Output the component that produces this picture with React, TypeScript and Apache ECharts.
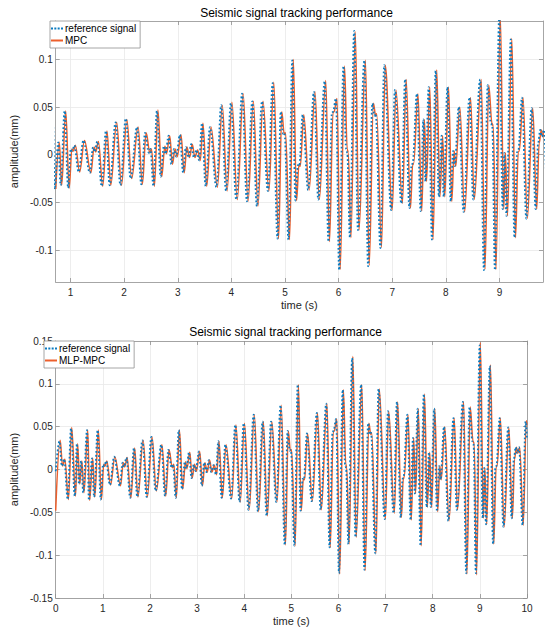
import React, { useEffect, useRef } from 'react';
import * as echarts from 'echarts';

// reference seismic signal (s, mm) — extrema and shoulders
const refTime = [
  0.00, 0.08, 0.13, 0.18, 0.255, 0.325, 0.405, 0.45, 0.495, 0.54,
  0.585, 0.665, 0.705, 0.77, 0.815, 0.89, 0.955, 1.005, 1.035, 1.07,
  1.15, 1.24, 1.36, 1.42, 1.45, 1.50, 1.58, 1.66, 1.73, 1.84,
  1.93, 2.03, 2.12, 2.24, 2.32, 2.39, 2.46, 2.49, 2.545, 2.61,
  2.68, 2.74, 2.77, 2.83, 2.88, 2.93, 2.97, 3.04, 3.10, 3.15,
  3.20, 3.25, 3.30, 3.35, 3.40, 3.45, 3.52, 3.60, 3.72, 3.81,
  3.90, 3.99, 4.09, 4.20, 4.29, 4.39, 4.475, 4.57, 4.68, 4.77,
  4.86, 4.92, 4.965, 4.99, 5.065, 5.135, 5.195, 5.24, 5.265, 5.33,
  5.43, 5.54, 5.62, 5.74, 5.81, 5.875, 5.895, 5.95, 6.01, 6.09,
  6.14, 6.16, 6.21, 6.29, 6.36, 6.48, 6.55, 6.63, 6.67, 6.69,
  6.78, 6.85, 6.98, 7.05, 7.17, 7.24, 7.32, 7.36, 7.38, 7.46,
  7.53, 7.58, 7.62, 7.68, 7.74, 7.81, 7.87, 7.92, 7.96, 8.03,
  8.09, 8.135, 8.165, 8.24, 8.33, 8.44, 8.51, 8.64, 8.71, 8.78,
  8.84, 8.865, 8.915, 8.995, 9.06, 9.09, 9.13, 9.21, 9.28, 9.33,
  9.35, 9.42, 9.50, 9.60, 9.675, 9.72, 9.76, 9.79, 9.83, 9.905,
  9.97, 10.00,
];
const refAmp = [
  -0.002, 0.033, 0.004, 0.012, -0.035, 0.048, -0.031, 0.030, -0.017, 0.010,
  -0.027, 0.046, -0.036, 0.013, -0.032, 0.046, -0.035, 0.006, 0.004, 0.010,
  -0.018, 0.015, -0.019, 0.008, 0.003, 0.014, -0.033, 0.025, -0.032, 0.034,
  -0.032, 0.038, -0.025, 0.029, -0.031, 0.023, 0.002, 0.006, -0.033, 0.046,
  -0.023, 0.009, 0.001, 0.020, -0.010, 0.006, -0.002, 0.021, -0.019, 0.008,
  -0.003, 0.011, -0.003, 0.005, -0.006, 0.033, -0.033, 0.029, -0.034, 0.052,
  -0.038, 0.054, -0.047, 0.064, -0.049, 0.056, -0.054, 0.056, -0.038, 0.075,
  -0.088, 0.045, 0.022, 0.023, -0.089, 0.099, -0.048, -0.011, -0.012, 0.042,
  -0.037, 0.066, -0.047, 0.077, -0.091, 0.044, 0.045, 0.059, -0.121, 0.093,
  0.006, 0.002, -0.087, 0.130, -0.079, 0.099, -0.117, 0.054, 0.041, 0.043,
  -0.098, 0.094, -0.058, 0.068, -0.051, 0.079, -0.056, -0.011, -0.009, 0.064,
  -0.059, 0.037, -0.028, 0.071, -0.089, 0.088, -0.044, 0.020, -0.044, 0.071,
  -0.049, 0.004, -0.012, 0.050, -0.060, 0.060, -0.047, 0.079, -0.121, 0.073,
  0.033, 0.030, -0.121, 0.145, -0.057, 0.002, -0.064, 0.121, -0.087, 0.003,
  0.004, 0.060, -0.067, 0.049, -0.057, 0.012, 0.026, 0.019, 0.026, -0.065,
  0.056, 0.035,
];

// MPC tracking output (top panel, visible from its left edge on)
const mpcTime = [
  0.725, 0.79, 0.835, 0.91, 0.975, 1.025, 1.055, 1.09,
  1.17, 1.26, 1.38, 1.44, 1.47, 1.52, 1.60, 1.68, 1.75, 1.86,
  1.95, 2.05, 2.14, 2.26, 2.34, 2.41, 2.48, 2.51, 2.565, 2.63,
  2.70, 2.76, 2.79, 2.85, 2.90, 2.95, 2.99, 3.06, 3.12, 3.17,
  3.22, 3.27, 3.32, 3.37, 3.42, 3.47, 3.54, 3.62, 3.74, 3.83,
  3.92, 4.01, 4.11, 4.22, 4.31, 4.41, 4.495, 4.59, 4.70, 4.79,
  4.88, 4.94, 4.985, 5.01, 5.085, 5.155, 5.215, 5.26, 5.285, 5.35,
  5.45, 5.56, 5.64, 5.76, 5.83, 5.895, 5.915, 5.97, 6.03, 6.11,
  6.16, 6.18, 6.23, 6.31, 6.38, 6.50, 6.57, 6.65, 6.69, 6.71,
  6.80, 6.87, 7.00, 7.07, 7.19, 7.26, 7.34, 7.38, 7.40, 7.48,
  7.55, 7.60, 7.64, 7.70, 7.76, 7.83, 7.89, 7.94, 7.98, 8.05,
  8.11, 8.155, 8.185, 8.26, 8.35, 8.46, 8.53, 8.66, 8.73, 8.80,
  8.86, 8.885, 8.935, 9.015, 9.08, 9.11, 9.15, 9.23, 9.30, 9.35,
  9.37, 9.44, 9.52, 9.62, 9.695, 9.74, 9.78, 9.81, 9.85, 9.925,
  9.99, 10.00,
];
const mpcAmp = [
  -0.036, 0.013, -0.032, 0.046, -0.035, 0.006, 0.004, 0.010,
  -0.018, 0.015, -0.019, 0.008, 0.003, 0.014, -0.033, 0.025, -0.032, 0.034,
  -0.032, 0.037, -0.025, 0.029, -0.031, 0.023, 0.002, 0.006, -0.033, 0.047,
  -0.023, 0.009, 0.001, 0.020, -0.010, 0.006, -0.002, 0.021, -0.019, 0.008,
  -0.003, 0.011, -0.003, 0.005, -0.006, 0.033, -0.033, 0.029, -0.034, 0.052,
  -0.038, 0.055, -0.047, 0.064, -0.049, 0.056, -0.054, 0.056, -0.038, 0.076,
  -0.088, 0.045, 0.022, 0.023, -0.089, 0.100, -0.048, -0.011, -0.012, 0.042,
  -0.037, 0.066, -0.047, 0.078, -0.091, 0.044, 0.045, 0.059, -0.120, 0.093,
  0.006, 0.002, -0.087, 0.129, -0.079, 0.099, -0.116, 0.054, 0.041, 0.043,
  -0.097, 0.094, -0.058, 0.068, -0.051, 0.079, -0.056, -0.011, -0.009, 0.064,
  -0.059, 0.037, -0.028, 0.071, -0.089, 0.089, -0.044, 0.020, -0.044, 0.071,
  -0.049, 0.004, -0.012, 0.050, -0.060, 0.060, -0.047, 0.079, -0.120, 0.073,
  0.033, 0.030, -0.120, 0.146, -0.057, 0.002, -0.064, 0.122, -0.087, 0.003,
  0.004, 0.060, -0.067, 0.049, -0.057, 0.012, 0.026, 0.019, 0.026, -0.065,
  0.056, 0.054,
];

// MLP-MPC tracking output (bottom panel)
const mlpTime = [
  0.00, 0.095, 0.145, 0.195, 0.27, 0.34, 0.42, 0.465, 0.51, 0.555,
  0.60, 0.68, 0.72, 0.785, 0.83, 0.905, 0.97, 1.02, 1.05, 1.085,
  1.165, 1.255, 1.375, 1.435, 1.465, 1.515, 1.595, 1.675, 1.745, 1.855,
  1.945, 2.045, 2.135, 2.255, 2.335, 2.405, 2.475, 2.505, 2.56, 2.625,
  2.695, 2.755, 2.785, 2.845, 2.895, 2.945, 2.985, 3.055, 3.115, 3.165,
  3.215, 3.265, 3.315, 3.365, 3.415, 3.465, 3.535, 3.615, 3.735, 3.825,
  3.915, 4.005, 4.105, 4.215, 4.305, 4.405, 4.49, 4.585, 4.695, 4.785,
  4.875, 4.935, 4.98, 5.005, 5.08, 5.15, 5.21, 5.255, 5.28, 5.345,
  5.445, 5.555, 5.635, 5.755, 5.825, 5.89, 5.91, 5.965, 6.025, 6.105,
  6.155, 6.175, 6.225, 6.305, 6.375, 6.495, 6.565, 6.645, 6.685, 6.705,
  6.795, 6.865, 6.995, 7.065, 7.185, 7.255, 7.335, 7.375, 7.395, 7.475,
  7.545, 7.595, 7.635, 7.695, 7.755, 7.825, 7.885, 7.935, 7.975, 8.045,
  8.105, 8.15, 8.18, 8.255, 8.345, 8.455, 8.525, 8.655, 8.725, 8.795,
  8.855, 8.88, 8.93, 9.01, 9.075, 9.105, 9.145, 9.225, 9.295, 9.345,
  9.365, 9.435, 9.515, 9.615, 9.69, 9.735, 9.775, 9.805, 9.845, 9.92,
  9.985, 10.00,
];
const mlpAmp = [
  -0.048, 0.034, 0.004, 0.012, -0.035, 0.049, -0.031, 0.030, -0.017, 0.010,
  -0.027, 0.046, -0.036, 0.013, -0.032, 0.046, -0.035, 0.006, 0.004, 0.010,
  -0.018, 0.015, -0.019, 0.008, 0.003, 0.014, -0.033, 0.025, -0.032, 0.034,
  -0.032, 0.038, -0.025, 0.029, -0.031, 0.023, 0.002, 0.006, -0.033, 0.046,
  -0.023, 0.009, 0.001, 0.020, -0.010, 0.006, -0.002, 0.021, -0.019, 0.008,
  -0.003, 0.011, -0.003, 0.005, -0.006, 0.033, -0.033, 0.029, -0.034, 0.052,
  -0.038, 0.054, -0.047, 0.064, -0.049, 0.056, -0.054, 0.056, -0.038, 0.075,
  -0.088, 0.045, 0.022, 0.023, -0.089, 0.099, -0.048, -0.011, -0.012, 0.042,
  -0.037, 0.066, -0.047, 0.077, -0.091, 0.044, 0.045, 0.059, -0.122, 0.093,
  0.006, 0.002, -0.087, 0.132, -0.079, 0.099, -0.118, 0.054, 0.041, 0.043,
  -0.098, 0.094, -0.058, 0.068, -0.051, 0.079, -0.056, -0.011, -0.009, 0.064,
  -0.059, 0.037, -0.028, 0.071, -0.089, 0.088, -0.044, 0.020, -0.044, 0.071,
  -0.049, 0.004, -0.012, 0.050, -0.060, 0.060, -0.047, 0.079, -0.122, 0.073,
  0.033, 0.030, -0.123, 0.148, -0.057, 0.002, -0.064, 0.122, -0.087, 0.003,
  0.004, 0.060, -0.067, 0.049, -0.057, 0.012, 0.026, 0.019, 0.026, -0.065,
  0.057, 0.052,
];

const topXTicks = [1, 2, 3, 4, 5, 6, 7, 8, 9];
const topYTicks = [-0.1, -0.05, 0, 0.05, 0.1];
const TITLE = 'Seismic signal tracking performance';
const REF_NAME = 'reference signal';
const MPC_NAME = 'MPC';
const MLP_NAME = 'MLP-MPC';
const X_NAME = 'time (s)';
const Y_NAME = 'amplitude(mm)';

const pairs = (t: number[], v: number[]) => t.map((x, i) => [x, v[i]]);

// legend glyphs: a dotted dash and a solid dash (12 x 2 box)
const DOTTED_ICON = 'path://M0,0h2v2h-2z M3.33,0h2v2h-2z M6.66,0h2v2h-2z M10,0h2v2h-2z';
const SOLID_ICON = 'path://M0,0h12v2h-12z';

export default function App() {
  const ref = useRef<HTMLDivElement>(null);
  useEffect(() => {
    if (!ref.current) return;
    const chart = echarts.init(ref.current, null, { renderer: 'svg' });
    const font = 'Liberation Sans, Arial, Helvetica, sans-serif';
    const boxColor = '#8f8f8f';
    const gridColor = '#e8e8e8';
    const textColor = '#262626';
    const blue = '#0A7BC0';
    const orange = '#EC5F2C';
    const fmt = (v: number) => String(Math.round(v * 1000) / 1000);

    const axisLine = { show: true, onZero: false, lineStyle: { color: boxColor, width: 0.8 } };
    const tickStyle = { color: boxColor, width: 0.8 };
    const labelStyle = { fontSize: 10, color: textColor, fontFamily: font };
    const nameStyle = { fontSize: 11, color: textColor, fontFamily: font };

    const xAxes: any[] = [
      {
        type: 'value', gridIndex: 0, position: 'bottom', min: 0.7232, max: 9.812,
        axisLine, axisTick: { inside: true, length: 4, customValues: topXTicks, lineStyle: tickStyle },
        axisLabel: { ...labelStyle, margin: 5, customValues: topXTicks, formatter: fmt },
        splitLine: { show: true, lineStyle: { color: gridColor, width: 0.8 } },
        name: X_NAME, nameLocation: 'middle', nameGap: 17, nameTextStyle: nameStyle,
      },
      {
        type: 'value', gridIndex: 0, position: 'top', min: 0.7232, max: 9.812,
        axisLine, axisTick: { inside: true, length: 4, customValues: topXTicks, lineStyle: tickStyle },
        axisLabel: { show: false }, splitLine: { show: false },
      },
      {
        type: 'value', gridIndex: 1, position: 'bottom', min: 0, max: 10, interval: 1,
        axisLine, axisTick: { inside: true, length: 4, lineStyle: tickStyle },
        axisLabel: { ...labelStyle, margin: 5, formatter: fmt },
        splitLine: { show: true, lineStyle: { color: gridColor, width: 0.8 } },
        name: X_NAME, nameLocation: 'middle', nameGap: 17, nameTextStyle: nameStyle,
      },
      {
        type: 'value', gridIndex: 1, position: 'top', min: 0, max: 10, interval: 1,
        axisLine, axisTick: { inside: true, length: 4, lineStyle: tickStyle },
        axisLabel: { show: false }, splitLine: { show: false },
      },
    ];
    const yAxes: any[] = [
      {
        type: 'value', gridIndex: 0, position: 'left', min: -0.1335, max: 0.1403,
        axisLine, axisTick: { inside: true, length: 4, customValues: topYTicks, lineStyle: tickStyle },
        axisLabel: { ...labelStyle, margin: 3, customValues: topYTicks, formatter: fmt },
        splitLine: { show: true, lineStyle: { color: gridColor, width: 0.8 } },
        name: Y_NAME, nameLocation: 'middle', nameGap: 29, nameTextStyle: nameStyle,
      },
      {
        type: 'value', gridIndex: 0, position: 'right', min: -0.1335, max: 0.1403,
        axisLine, axisTick: { inside: true, length: 4, customValues: topYTicks, lineStyle: tickStyle },
        axisLabel: { show: false }, splitLine: { show: false },
      },
      {
        type: 'value', gridIndex: 1, position: 'left', min: -0.15, max: 0.15, interval: 0.05,
        axisLine, axisTick: { inside: true, length: 4, lineStyle: tickStyle },
        axisLabel: { ...labelStyle, margin: 3, formatter: fmt },
        splitLine: { show: true, lineStyle: { color: gridColor, width: 0.8 } },
        name: Y_NAME, nameLocation: 'middle', nameGap: 28, nameTextStyle: nameStyle,
      },
      {
        type: 'value', gridIndex: 1, position: 'right', min: -0.15, max: 0.15, interval: 0.05,
        axisLine, axisTick: { inside: true, length: 4, lineStyle: tickStyle },
        axisLabel: { show: false }, splitLine: { show: false },
      },
    ];

    const lineBase = {
      type: 'line', symbol: 'none', showSymbol: false, smooth: 0.36, smoothMonotone: 'x',
      animation: false, emphasis: { disabled: true },
    };
    const refLine = { color: blue, width: 1.8, type: [1.8, 2.2] };
    const trkLine = { color: orange, width: 1.5, type: 'solid' };

    const legendBase = {
      orient: 'vertical', itemGap: 1, itemWidth: 12, itemHeight: 2,
      padding: [2, 4, 2, 1], borderColor: boxColor, borderWidth: 0.8, backgroundColor: '#fff',
      textStyle: { fontSize: 10, color: '#000', fontFamily: font, lineHeight: 11, padding: [0, 0, 0, -3] },
      selectedMode: false,
    };

    chart.setOption({
      animation: false,
      grid: [
        { left: 50, top: 21, width: 493, height: 261, containLabel: false },
        { left: 44, top: 341, width: 483, height: 257, containLabel: false },
      ],
      xAxis: xAxes,
      yAxis: yAxes,
      legend: [
        {
          ...legendBase, left: 50, top: 21,
          data: [
            { name: REF_NAME, icon: DOTTED_ICON, itemStyle: { color: blue } },
            { name: MPC_NAME, icon: SOLID_ICON, itemStyle: { color: orange } },
          ],
        },
        {
          ...legendBase, left: 44, top: 341,
          data: [
            { name: REF_NAME, icon: DOTTED_ICON, itemStyle: { color: blue } },
            { name: MLP_NAME, icon: SOLID_ICON, itemStyle: { color: orange } },
          ],
        },
      ],
      graphic: [
        {
          type: 'text', x: 296.5, y: 12.7,
          style: { text: TITLE, fontSize: 12, fontFamily: font, fill: '#000', textAlign: 'center', align: 'center', textVerticalAlign: 'middle', verticalAlign: 'middle' },
        },
        {
          type: 'text', x: 285.5, y: 332,
          style: { text: TITLE, fontSize: 12, fontFamily: font, fill: '#000', textAlign: 'center', align: 'center', textVerticalAlign: 'middle', verticalAlign: 'middle' },
        },
      ],
      series: [
        { ...lineBase, name: MPC_NAME, xAxisIndex: 0, yAxisIndex: 0, z: 2, data: pairs(mpcTime, mpcAmp), lineStyle: trkLine, itemStyle: { color: orange } },
        { ...lineBase, name: REF_NAME, xAxisIndex: 0, yAxisIndex: 0, z: 3, data: pairs(refTime, refAmp), lineStyle: refLine, itemStyle: { color: blue } },
        { ...lineBase, name: MLP_NAME, xAxisIndex: 2, yAxisIndex: 2, z: 2, data: pairs(mlpTime, mlpAmp), lineStyle: trkLine, itemStyle: { color: orange } },
        { ...lineBase, name: REF_NAME, xAxisIndex: 2, yAxisIndex: 2, z: 3, data: pairs(refTime, refAmp), lineStyle: refLine, itemStyle: { color: blue } },
      ],
    });
    return () => chart.dispose();
  }, []);
  return <div ref={ref} style={{ position: 'absolute', left: 0, top: 0, width: 550, height: 634 }} />;
}
